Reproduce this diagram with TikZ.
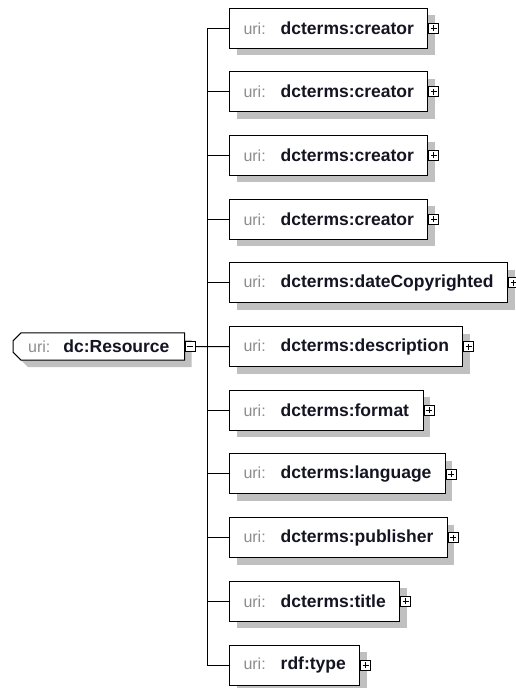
\documentclass[tikz,border=0pt]{standalone}
\usepackage{fontspec}
\setmainfont{Liberation Sans}
\usetikzlibrary{positioning,shadows,backgrounds}

\definecolor{urigray}{RGB}{140,140,140}
\definecolor{shadowgray}{RGB}{192,192,192}
\definecolor{namecol}{RGB}{20,20,35}

\tikzset{
	elem/.style={draw=black, line width=1pt, fill=white, anchor=west,
		minimum height=40pt, inner xsep=14pt, inner ysep=0pt,
		font=\fontsize{16}{18}\selectfont,
		drop shadow={shadow xshift=7pt, shadow yshift=-7pt, fill=shadowgray, opacity=1}},
	rootelem/.style={anchor=west, minimum height=27pt, inner xsep=15pt, inner ysep=0pt,
		font=\fontsize{16}{18}\selectfont},
	togglebox/.style={draw=black, fill=white, line width=0.8pt, minimum size=10pt, inner sep=0pt, anchor=west},
	link/.style={draw=black, line width=1pt},
}
\newcommand{\uritext}[2][15pt]{{\color{urigray}uri:}\hspace{#1}{\fontsize{17.5}{18}\bfseries\color{namecol}#2}}

\begin{document}
\begin{tikzpicture}[x=1pt,y=1pt]
	\useasboundingbox (0,0) rectangle (516,-688);

	% root element
	\node[rootelem] (root) at (13,-346.5) {\uritext[13pt]{dc:Resource}};
	\begin{scope}[on background layer]
	\fill[shadowgray] ([shift={(7,-15)}]root.north west) -- ([shift={(15,-7)}]root.north west)
		-- ([shift={(7,-7)}]root.north east) -- ([shift={(7,-7)}]root.south east)
		-- ([shift={(15,-7)}]root.south west) -- ([shift={(7,1)}]root.south west) -- cycle;
	\draw[line width=1pt, fill=white] ([yshift=-8]root.north west) -- ([xshift=8]root.north west)
		-- (root.north east) -- (root.south east)
		-- ([xshift=8]root.south west) -- ([yshift=8]root.south west) -- cycle;
	\end{scope}
	\node[togglebox] (minus) at (root.east) {};
	\draw[line width=0.8pt] ([xshift=-3pt]minus.center) -- ([xshift=3pt]minus.center);

	% child elements
	\foreach \name [count=\i] in {dcterms:creator,dcterms:creator,dcterms:creator,dcterms:creator,
		dcterms:dateCopyrighted,dcterms:description,dcterms:format,dcterms:language,
		dcterms:publisher,dcterms:title,rdf:type}{
		\pgfmathsetmacro\yy{-28-63.7*(\i-1)}
		\node[elem] (c\i) at (229,\yy) {\uritext{\name}};
		\node[togglebox] (p\i) at (c\i.east) {};
		\draw[line width=0.8pt] ([xshift=-3pt]p\i.center) -- ([xshift=3pt]p\i.center);
		\draw[line width=0.8pt] ([yshift=-3pt]p\i.center) -- ([yshift=3pt]p\i.center);
	}

	% sequence trunk
	\draw[link] (c1.west) -- ++(-22,0) |- (c11.west);
	\foreach \i in {2,...,10}{
		\draw[link] (c\i.west) -- ++(-22,0);
	}
	\draw[link] (minus.east) -- (c6.west);
\end{tikzpicture}
\end{document}
